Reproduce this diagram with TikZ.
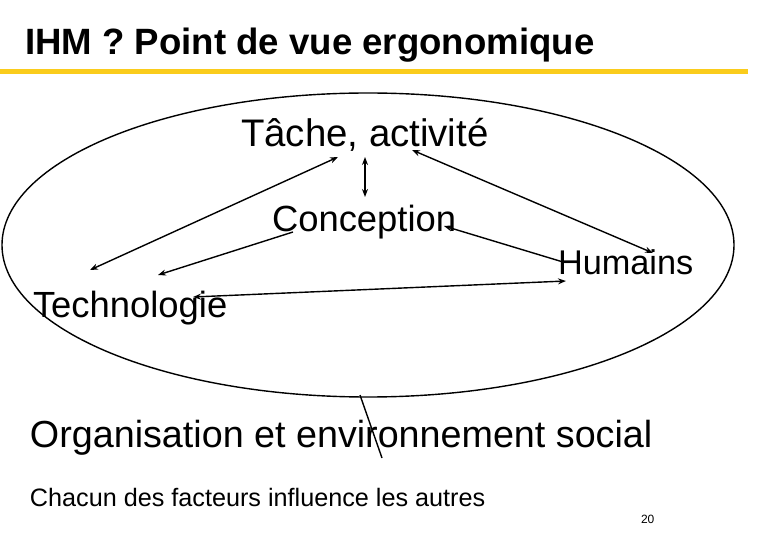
\documentclass[tikz,border=0pt]{standalone}
\usepackage{fontspec}
\setmainfont{Liberation Sans}
\usetikzlibrary{shapes.geometric,arrows.meta}
\definecolor{titlebar}{RGB}{250,204,28}
\tikzset{
  lbl/.style={anchor=base west, inner sep=0pt, outer sep=0pt, text=black},
  link/.style={line width=1.4pt, draw=black},
  tip/.style={-{Stealth[length=8pt,width=6pt]}},
  tips/.style={{Stealth[length=8pt,width=6pt]}-{Stealth[length=8pt,width=6pt]}}
}
\begin{document}
\begin{tikzpicture}[x=1pt,y=-1pt]
\useasboundingbox (0,0) rectangle (780,540);
% title
\node[lbl] (title) at (25,55) {\fontsize{36.6}{40}\selectfont\bfseries IHM ? Point de vue ergonomique};
\fill[titlebar] (0,69) rectangle (748,74);
% oval
\node[ellipse, draw=black, line width=1.4pt, minimum width=732pt, minimum height=304pt, inner sep=0pt] (oval) at (368,245) {};
% labels
\node[lbl] (tache) at (241,147) {\fontsize{38.4}{42}\selectfont Tâche, activité};
\node[lbl] (conc) at (272,232) {\fontsize{36.4}{40}\selectfont Conception};
\node[lbl] (tech) at (33,318) {\fontsize{36.4}{40}\selectfont Technologie};
\node[lbl] (hum) at (558,275) {\fontsize{34.3}{40}\selectfont Humains};
\node[lbl] (org) at (30,447) {\fontsize{37.7}{42}\selectfont Organisation et environnement social};
\node[lbl] (chac) at (30,506) {\fontsize{25.2}{30}\selectfont Chacun des facteurs influence les autres};
\node[lbl] (num) at (641,523) {\fontsize{12}{14}\selectfont 20};
% connector ends
\coordinate (tA) at (365,157);
\coordinate (cA) at (365,197);
\coordinate (tB) at (338,157);
\coordinate (xB) at (90,270);
\coordinate (tC) at (412,150);
\coordinate (hC) at (653,253);
\coordinate (cD) at (293,232);
\coordinate (xD) at (158,275);
\coordinate (cE) at (444,226);
\coordinate (hE) at (563,262);
\coordinate (xF) at (193,297);
\coordinate (hF) at (566,281);
\coordinate (oG) at (360,395);
\coordinate (gG) at (382,458);
% connectors
\draw[link,tips] (tA) -- (cA);
\draw[link,tips] (tB) -- (xB);
\draw[link,tips] (tC) -- (hC);
\draw[link,tip] (cD) -- (xD);
\draw[link,tip] (hE) -- (cE);
\draw[link,tips] (xF) -- (hF);
\draw[link] (oG) -- (gG);
\end{tikzpicture}
\end{document}
